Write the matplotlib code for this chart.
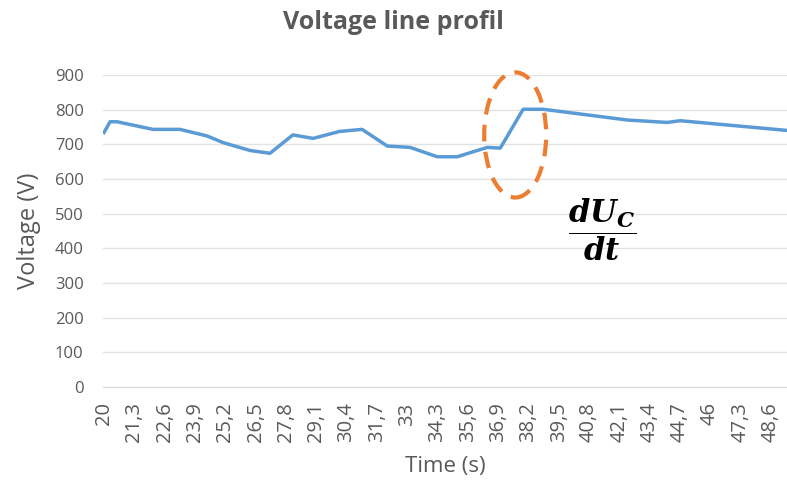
import numpy as np
import matplotlib.pyplot as plt
from matplotlib.patches import Ellipse

# voltage profile (time in s, voltage in V)
time_s = [20.0, 20.26, 20.56, 22.1, 23.26, 24.42, 25.1, 26.27, 27.12, 28.1,
          28.97, 30.1, 31.07, 32.15, 33.13, 34.3, 35.15, 36.44, 37.0, 37.98,
          38.84, 42.45, 44.16, 44.72, 49.3]
voltage = [734, 765, 765, 743, 743, 724, 705, 682, 674, 727,
           717, 737, 743, 695, 691, 664, 664, 691, 689, 801,
           801, 770, 763, 768, 740]

tick_times = [round(20 + 1.3 * k, 1) for k in range(23)]
tick_labels = [f"{t:g}".replace('.', ',') for t in tick_times]
y_ticks = list(range(0, 1000, 100))

grey = '#595959'
plt.rcParams['font.family'] = ['Open Sans', 'DejaVu Sans']

fig = plt.figure(figsize=(7.87, 4.93), dpi=100)
ax = fig.add_axes([0.131, 0.215, 0.869, 0.633])

ax.plot(time_s, voltage, color='#5B9BD5', lw=2.5, solid_joinstyle='round')

ax.set_xlim(19.96, 49.3)
ax.set_ylim(0, 900)
ax.set_yticks(y_ticks)
ax.set_xticks(tick_times)
ax.set_xticklabels(tick_labels, rotation=90)
ax.tick_params(length=0, labelcolor=grey)
ax.tick_params(axis='y', pad=14, labelsize=12)
ax.tick_params(axis='x', pad=11, labelsize=14.5)
ax.grid(axis='y', color='#e3e3e3', lw=1)
ax.set_axisbelow(True)
for s in ['top', 'right', 'left']:
    ax.spines[s].set_visible(False)
ax.spines['bottom'].set_color('#d9d9d9')

fig.suptitle('Voltage line profil', x=0.5, y=0.98, fontsize=18,
             fontweight='bold', color=grey)
ax.set_xlabel('Time (s)', fontsize=16, color=grey, labelpad=10)
ax.set_ylabel('Voltage (V)', fontsize=17, color=grey, labelpad=10)

# highlight of the voltage step
ell = Ellipse((37.64, 727), width=2.66, height=361, fill=False, clip_on=False,
              edgecolor='#ED7D31', lw=3, ls=(0, (4, 2.5)))
ax.add_patch(ell)

fig.text(0.765, 0.535, r'$\dfrac{\mathbfit{dU_C}}{\mathbfit{dt}}$',
         fontsize=22, ha='center', va='center', color='black',
         math_fontfamily='dejavuserif')

fig.savefig('out.png', dpi=100)
